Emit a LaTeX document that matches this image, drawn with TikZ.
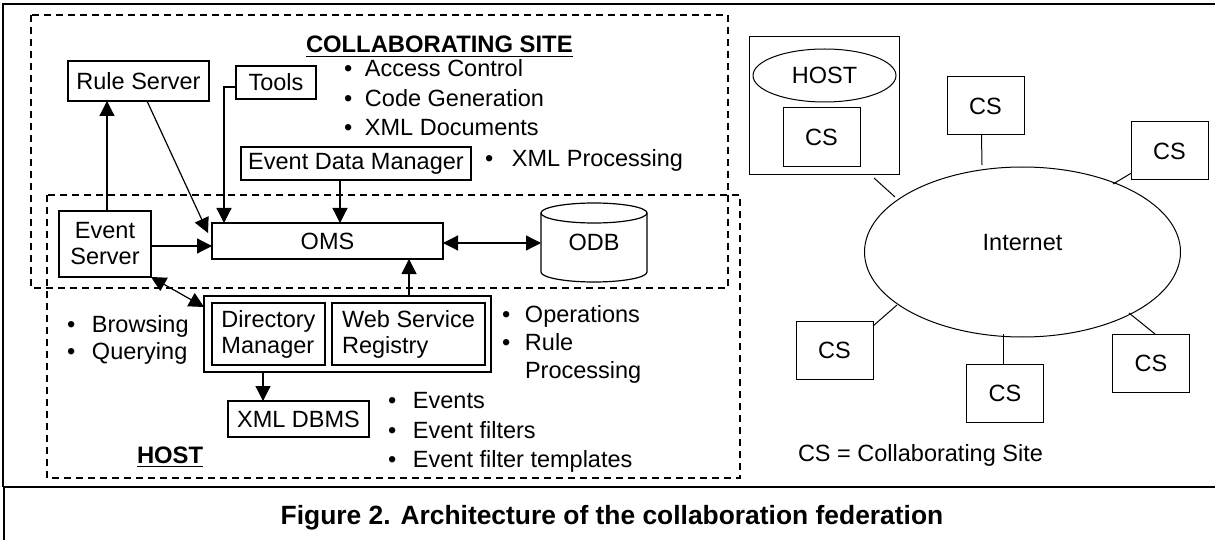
\documentclass[tikz,border=0pt]{standalone}
\usepackage{fontspec}
\setmainfont{Liberation Sans}
\usetikzlibrary{arrows.meta,shapes.geometric,calc}
\newcommand\bitem[2]{\makebox[#1][l]{\textbullet}#2}
\begin{document}
\begin{tikzpicture}[x=1pt,y=-1pt,
  every node/.style={inner sep=0pt, outer sep=0pt},
  txt/.style={font=\fontsize{23.5}{26}\selectfont},
  btxt/.style={font=\fontsize{23.8}{26}\selectfont\bfseries},
  box/.style={draw, line width=1.2pt, align=center, txt},
  dbox/.style={draw, line width=1.3pt, dash pattern=on 7pt off 5pt},
  arr/.style={line width=1.2pt, -{Triangle[length=15pt,width=15pt]}},
  darr/.style={line width=1.2pt, {Triangle[length=15pt,width=15pt]}-{Triangle[length=15pt,width=15pt]}},
  rline/.style={line width=1pt},
  rbox/.style={draw, rline, txt, minimum width=77, minimum height=58},
  lt/.style={txt, anchor=base west},
  frame/.style={line width=2pt},
]
\useasboundingbox (0,0) rectangle (1215,540);

% outer frame
\draw[frame] (3,4) -- (1215,4);
\draw[frame] (3,3) -- (3,487);
\draw[frame] (4,487) -- (4,540);
\draw[frame] (3,487) -- (1215,487);

% dashed regions
\draw[dbox] (31,15) rectangle (728,288);
\draw[dbox] (47,195) rectangle (740,478);

% titles
\node[btxt, anchor=base west] (cst) at (306,53) {COLLABORATING SITE};
\draw[line width=1.6pt] ([yshift=-3.5pt]cst.base west) -- ([yshift=-3.5pt]cst.base east);
\node[btxt, anchor=base west] (hst) at (137,463) {HOST};
\draw[line width=1.6pt] ([yshift=-3.5pt]hst.base west) -- ([yshift=-3.5pt]hst.base east);

% boxes
\node[box, minimum width=141, minimum height=40] (rs) at (138.5,81) {Rule Server};
\node[box, minimum width=80, minimum height=33] (tools) at (276,82.5) {Tools};
\node[box, minimum width=230, minimum height=33] (edm) at (356,163.5) {Event Data Manager};
\node[box, minimum width=231, minimum height=36] (oms) at (327.5,241) {OMS};
\node[box, minimum width=92, minimum height=66] (es) at (105,244) {Event\\Server};
\node[box, minimum width=287, minimum height=76] (grp) at (347.5,334) {};
\node[box, minimum width=113, minimum height=62, align=left] (dm) at (268.5,334) {Directory\\Manager};
\node[box, minimum width=153, minimum height=62, align=left] (wsr) at (408.5,334) {Web Service\\Registry};
\node[box, minimum width=141, minimum height=36] (xml) at (298.5,419) {XML DBMS};

% ODB cylinder
\node[txt, minimum width=106, minimum height=79] (odb) at (594,242.5) {ODB};
\draw[line width=1.2pt] ($(odb.north west)+(0,10)$) -- ($(odb.south west)+(0,-10)$)
  arc[start angle=180, end angle=360, x radius=53pt, y radius=10pt] -- ($(odb.north east)+(0,10)$);
\draw[line width=1.2pt] ($(odb.north)+(0,10)$) ellipse[x radius=53pt, y radius=10pt];

% arrows
\draw[arr] ([xshift=2pt]es.north) -- ([xshift=2pt]es.north |- rs.south);
\draw[arr] ([xshift=8.5pt]rs.south) -- ([xshift=-4pt,yshift=-10pt]oms.north west);
\draw[arr] ([yshift=-4.5pt]tools.west) -| ([xshift=12pt]oms.north west);
\draw[arr] ([xshift=-16pt]edm.south) -- ([xshift=-16pt]edm.south |- oms.north);
\draw[arr] ([yshift=-2pt]es.east) -- ([yshift=-2pt]es.east -| oms.west);
\draw[darr] (es.south east) -- ([yshift=-11pt]grp.north west);
\draw[arr] ([xshift=61.5pt]grp.north) -- ([xshift=61.5pt]grp.north |- oms.south);
\draw[arr] ([xshift=-35.5pt]xml.north |- grp.south) -- ([xshift=-35.5pt]xml.north);
\draw[darr] ([yshift=-2pt]oms.east) -- ([yshift=-2pt]oms.east -| odb.west);

% bullet texts
\node[lt] (a1) at (344,77) {\bitem{21pt}{Access Control}};
\node[lt] (a2) at (344,106.5) {\bitem{21pt}{Code Generation}};
\node[lt] (a3) at (344,135.5) {\bitem{21pt}{XML Documents}};
\node[lt] (a4) at (485,167) {\bitem{27pt}{XML Processing}};
\node[lt] (b1) at (67,332) {\bitem{25pt}{Browsing}};
\node[lt] (b2) at (67,359) {\bitem{25pt}{Querying}};
\node[lt] (c1) at (502,322) {\bitem{23pt}{Operations}};
\node[lt] (c2) at (502,350) {\bitem{23pt}{Rule}};
\node[lt] (c3) at (525,378) {Processing};
\node[lt] (d1) at (388,408.5) {\bitem{25pt}{Events}};
\node[lt] (d2) at (388,438.5) {\bitem{25pt}{Event filters}};
\node[lt] (d3) at (388,467.5) {\bitem{25pt}{Event filter templates}};

% right part
\node[draw, rline, minimum width=150, minimum height=138] (hf) at (824,106) {};
\node[draw, rline, ellipse, txt, minimum width=143, minimum height=53] (hostel) at (824.5,75.5) {HOST};
\node[rbox, minimum height=59] (cs0) at (821.5,137.5) {CS};
\node[rbox] (cs1) at (985.5,106) {CS};
\node[rbox] (cs2) at (1169.5,151) {CS};
\node[rbox] (cs3) at (834.5,350) {CS};
\node[rbox] (cs4) at (1005,393) {CS};
\node[rbox] (cs5) at (1151,363) {CS};
\node[draw, rline, ellipse, minimum width=316, minimum height=170,
  label={[txt, yshift=9pt]center:Internet}] (inet) at (1022.5,252) {};

\coordinate (p0a) at (874,178); \coordinate (p0b) at (895,197);
\coordinate (p1b) at (982,165);
\coordinate (p2a) at (1131.5,173); \coordinate (p2b) at (1113,184);
\coordinate (p3a) at (873,326); \coordinate (p3b) at (897,305);
\coordinate (p4b) at (1003,334);
\coordinate (p5a) at (1155,334); \coordinate (p5b) at (1129,313);
\draw[rline] (p0a) -- (p0b);
\draw[rline] ([xshift=-4pt]cs1.south) -- (p1b);
\draw[rline] (p2a) -- (p2b);
\draw[rline] (p3a) -- (p3b);
\draw[rline] ([xshift=-2pt]cs4.north) -- (p4b);
\draw[rline] (p5a) -- (p5b);

\node[lt] (leg) at (798,461) {CS = Collaborating Site};

% caption
\node[font=\fontsize{26.4}{30}\selectfont\bfseries, anchor=base] (cap) at (612,524) {Figure 2. Architecture of the collaboration federation};
\end{tikzpicture}
\end{document}
